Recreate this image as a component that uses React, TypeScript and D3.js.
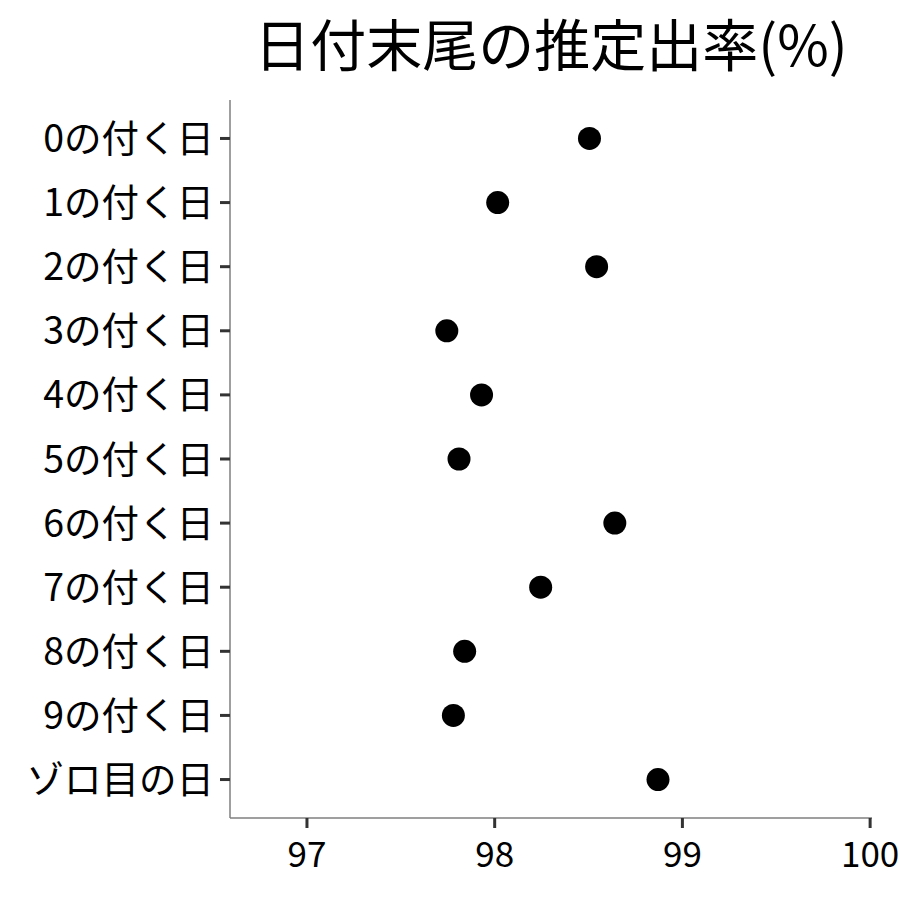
import React from 'react';
import * as d3 from 'd3';

const categories = ['0の付く日', '1の付く日', '2の付く日', '3の付く日', '4の付く日', '5の付く日', '6の付く日', '7の付く日', '8の付く日', '9の付く日', 'ゾロ目の日'];
const rates = [98.505, 98.016, 98.543, 97.745, 97.93, 97.81, 98.64, 98.245, 97.84, 97.78, 98.87];
const xTicks = [97, 98, 99, 100];

const W = 900;
const H = 900;
const left = 230;
const right = 872;
const top = 100;
const bottom = 818;
const font = '"Noto Sans CJK JP", "Noto Sans", sans-serif';

const App: React.FC = () => {
  const x = d3.scaleLinear().domain([96.59, 100.01]).range([left, right]);
  const y = d3.scalePoint<string>().domain(categories).range([top, bottom]).padding(0.6);

  return (
    <svg width={W} height={H} style={{ position: 'absolute', left: 0, top: 0 }} fontFamily={font}>
      <rect width={W} height={H} fill="#fff" />
      <text x={(left + right) / 2} y={66} textAnchor="middle" fontSize={56} fill="#000">
        日付末尾の推定出率(%)
      </text>
      {/* axes */}
      <line x1={left} x2={left} y1={top} y2={bottom} stroke="#7f7f7f" strokeWidth={1.5} />
      <line x1={left} x2={right} y1={bottom} y2={bottom} stroke="#7f7f7f" strokeWidth={1.5} />
      {categories.map(c => (
        <g key={c} transform={`translate(0, ${y(c)})`}>
          <line x1={left - 10} x2={left} stroke="#333" strokeWidth={3} />
          <text x={left - 16} dy="0.36em" textAnchor="end" fontSize={37.5} fill="#000">{c}</text>
        </g>
      ))}
      {xTicks.map(t => (
        <g key={t} transform={`translate(${x(t)}, 0)`}>
          <line y1={bottom} y2={bottom + 10} stroke="#333" strokeWidth={3} />
          <text y={bottom + 49} textAnchor="middle" fontSize={35} fill="#000">{t}</text>
        </g>
      ))}
      {/* points */}
      {categories.map((c, i) => (
        <circle key={c} cx={x(rates[i])} cy={y(c)} r={11.5} fill="#000" />
      ))}
    </svg>
  );
};

export default App;
